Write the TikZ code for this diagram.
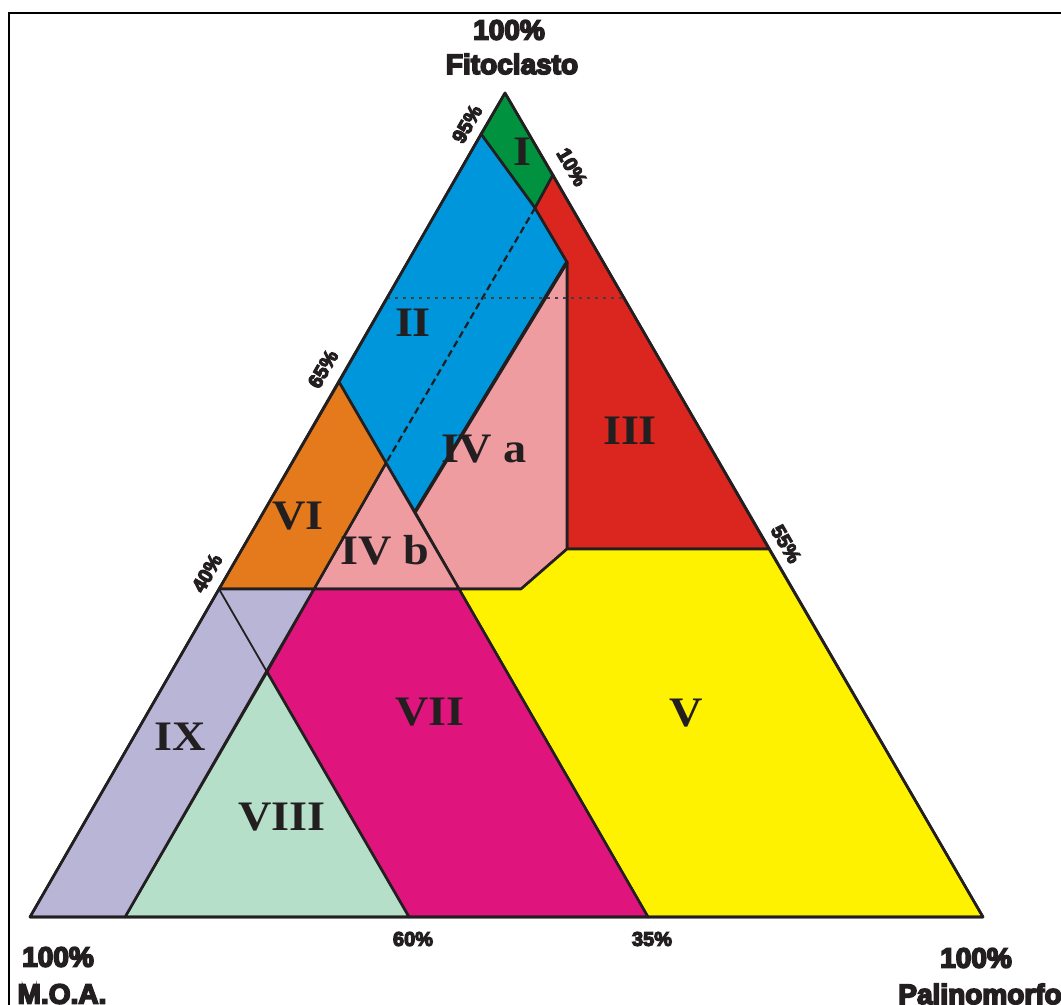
\documentclass[tikz,border=0pt]{standalone}
\usepackage{fontspec}
\newfontfamily\cornerfont[FakeBold=6]{Liberation Sans Bold}
\newfontfamily\fieldfont[FakeStretch=1.1]{Liberation Serif Bold}
\definecolor{fieldI}{RGB}{0,146,63}
\definecolor{fieldII}{RGB}{0,150,219}
\definecolor{fieldIII}{RGB}{218,38,30}
\definecolor{fieldIV}{RGB}{239,156,161}
\definecolor{fieldV}{RGB}{255,242,0}
\definecolor{fieldVI}{RGB}{228,122,27}
\definecolor{fieldVII}{RGB}{223,20,125}
\definecolor{fieldVIII}{RGB}{181,223,201}
\definecolor{fieldIX}{RGB}{185,181,215}
\definecolor{ink}{RGB}{35,31,32}
\tikzset{
  field/.style={draw=ink, line width=2.6bp, line join=round},
  thinline/.style={draw=ink, line width=1.8bp},
  numeral/.style={font=\fieldfont\fontsize{42bp}{44bp}\selectfont, text=ink, inner sep=0pt},
  corner/.style={font=\cornerfont\fontsize{28bp}{30bp}\selectfont, text=ink, inner sep=0pt},
  pct/.style={font=\cornerfont\fontsize{20bp}{22bp}\selectfont, text=ink, inner sep=0pt},
}

\begin{document}
\begin{tikzpicture}[x=1bp, y=-1bp]
      \useasboundingbox (0,0) rectangle (1061,1005);

      \coordinate (A)  at (505,93);
      \coordinate (BL) at (30,917);
      \coordinate (BR) at (983,917);
      \coordinate (La) at (481,134);
      \coordinate (Lb) at (339,382);
      \coordinate (Lc) at (219,589);
      \coordinate (Ra) at (553,175);
      \coordinate (Rb) at (769,549);
      \coordinate (Ba) at (125,917);
      \coordinate (Bb) at (409,917);
      \coordinate (Bc) at (648,917);
      \coordinate (Pa) at (535,208);
      \coordinate (Pb) at (567,262);
      \coordinate (Pc) at (567,549);
      \coordinate (Pd) at (521,589);
      \coordinate (Pe) at (459,589);
      \coordinate (Pf) at (415,512);
      \coordinate (Pg) at (386,463);
      \coordinate (Ph) at (314,589);
      \coordinate (Pi) at (267,672);
      \coordinate (Da) at (387,298);
      \coordinate (Db) at (624,298);
      \coordinate (Fa) at (9,1005);
      \coordinate (Fb) at (9,13);
      \coordinate (Fc) at (1061,13);

      \draw[line width=2bp] (Fa) -- (Fb) -- (Fc);

      \filldraw[field, fill=fieldI]    (A) -- (La) -- (Pa) -- (Ra) -- cycle;
      \filldraw[field, fill=fieldII]   (La) -- (Pa) -- (Pb) -- (Pf) -- (Pg) -- (Lb) -- cycle;
      \filldraw[field, fill=fieldIII]  (Ra) -- (Pa) -- (Pb) -- (Pc) -- (Rb) -- cycle;
      \filldraw[field, fill=fieldIV]   (Pb) -- (Pc) -- (Pd) -- (Pe) -- (Pf) -- cycle;
      \filldraw[field, fill=fieldIV]   (Pg) -- (Pe) -- (Ph) -- cycle;
      \filldraw[field, fill=fieldV]    (Pe) -- (Pd) -- (Pc) -- (Rb) -- (BR) -- (Bc) -- cycle;
      \filldraw[field, fill=fieldVI]   (Lb) -- (Pg) -- (Ph) -- (Lc) -- cycle;
      \filldraw[field, fill=fieldVII]  (Ph) -- (Pe) -- (Bc) -- (Bb) -- (Pi) -- cycle;
      \filldraw[field, fill=fieldVIII] (Pi) -- (Bb) -- (Ba) -- cycle;
      \filldraw[field, fill=fieldIX]   (Lc) -- (Ph) -- (Ba) -- (BL) -- cycle;

      \draw[thinline] (Lc) -- (Pi);
      \draw[draw=ink, line width=2.2bp, dash pattern=on 7bp off 4bp] (Pa) -- (Pg);
      \draw[draw=black!75, line width=2.6bp, dash pattern=on 3bp off 5bp] (Da) -- (Db);
      \draw[field, line width=3.6bp] (Pb) -- (Pf);
      \draw[field] (A) -- (BL) -- (BR) -- cycle;

      \node[numeral] (fI)    at (522,152) {I};
      \node[numeral] (fII)   at (413,323) {II};
      \node[numeral] (fIII)  at (630,431) {III};
      \node[numeral] (fIVa)  at (484,449) {IV a};
      \node[numeral] (fIVb)  at (385,550) {IV b};
      \node[numeral] (fV)    at (686,713) {V};
      \node[numeral] (fVI)   at (298,516) {VI};
      \node[numeral] (fVII)  at (430,712) {VII};
      \node[numeral] (fVIII) at (282,817) {VIII};
      \node[numeral] (fIX)   at (180,737) {IX};

      \node[pct, rotate=60]  (p95) at (467,124) {95\%};
      \node[pct, rotate=60]  (p65) at (323,369) {65\%};
      \node[pct, rotate=60]  (p40) at (207,573) {40\%};
      \node[pct, rotate=-60] (p10) at (572,167) {10\%};
      \node[pct, rotate=-60] (p55) at (786,544) {55\%};
      \node[pct] (p60) at (413,939) {60\%};
      \node[pct] (p35) at (652,939) {35\%};

      \node[corner] (fito100) at (509,30)  {100\%};
      \node[corner] (fito)    at (512,64)  {Fitoclasto};
      \node[corner] (moa100)  at (58,957)  {100\%};
      \node[corner] (moa)     at (62,994)  {M.O.A.};
      \node[corner] (pal100)  at (976,958) {100\%};
      \node[corner] (pal)     at (980,994) {Palinomorfo};
    \end{tikzpicture}
\end{document}
